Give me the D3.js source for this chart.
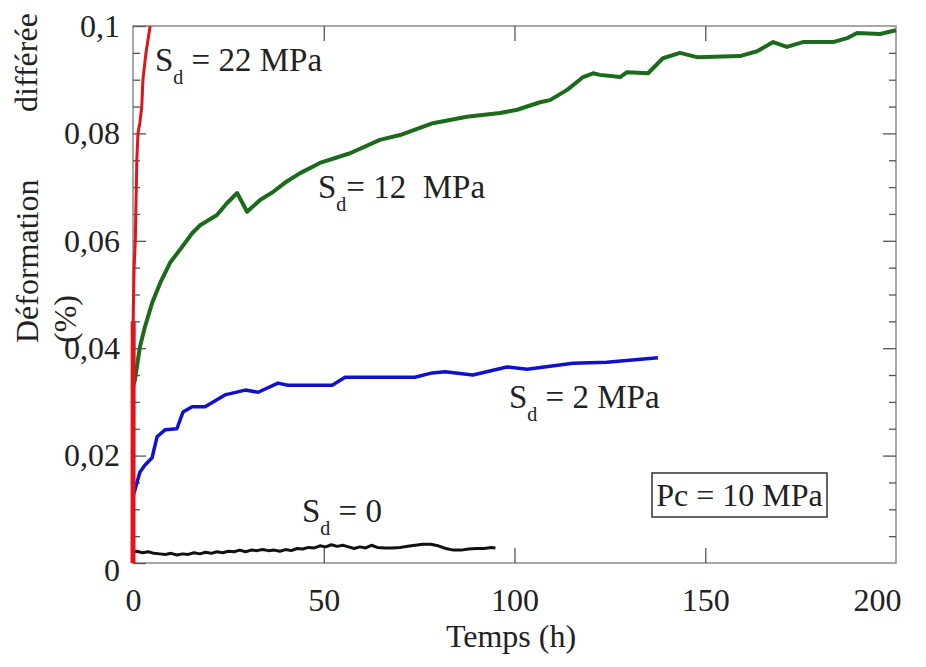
<!DOCTYPE html>
<html>
<head>
<meta charset="utf-8">
<script src="https://cdn.jsdelivr.net/npm/d3@7"></script>
<style>
  body { margin: 0; background: #fff; }
  text { font-family: "Liberation Serif", "Times New Roman", serif; fill: #222; }
</style>
</head>
<body>
<div id="chart"></div>
<script>
// data (time in h, deformation in %)
var redTime = [0, 0.02, 0.05, 0.15, 0.3, 0.6, 1.0, 1.3, 1.8, 2.3, 2.6, 3.4, 4.5];
var redDef = [0, 0.02, 0.045, 0.05, 0.055, 0.06, 0.075, 0.08, 0.082, 0.085, 0.09, 0.095, 0.1];

var greenTime = [0, 0.5, 1.8, 3.1, 5, 7.1, 9.7, 12.8, 15.5, 17.6, 22, 24.6, 27.3, 29.9, 33.3, 36.5,
  39.8, 43.8, 49, 56.9, 64.7, 70, 78.6, 87.5, 96.2, 100.7, 106.7, 109.3, 113.8, 118, 120.6, 122.4,
  127.7, 129.5, 135, 138.9, 143.4, 147.8, 159.1, 163.6, 167.8, 171.4, 175.6, 183.5, 187.4, 189.8, 195.8, 200];
var greenDef = [0.033, 0.0341, 0.0402, 0.0439, 0.0484, 0.0521, 0.0559, 0.0588, 0.0614, 0.0629, 0.0648, 0.067,
  0.0689, 0.0654, 0.0676, 0.069, 0.0708, 0.0726, 0.0745, 0.0763, 0.0788, 0.0797, 0.0819, 0.0831, 0.0838,
  0.0844, 0.0858, 0.0862, 0.0881, 0.0905, 0.0912, 0.0909, 0.0905, 0.0914, 0.0912, 0.094, 0.095, 0.0942,
  0.0944, 0.0953, 0.097, 0.0961, 0.097, 0.097, 0.0978, 0.0987, 0.0985, 0.0992];

var blueTime = [0, 0.5, 1.8, 3.1, 5, 6.3, 8.4, 11.5, 13.1, 15.5, 18.9, 24.1, 29.4, 32.8, 38, 40.6, 52.2,
  55.6, 73.9, 78.4, 81.8, 89.1, 98, 103.3, 115.3, 124.2, 137.6];
var blueDef = [0.0125, 0.0136, 0.0169, 0.0182, 0.0196, 0.0235, 0.0248, 0.025, 0.0281, 0.0291, 0.0291,
  0.0313, 0.0322, 0.0318, 0.0335, 0.0331, 0.0331, 0.0346, 0.0346, 0.0354, 0.0356, 0.035, 0.0365, 0.0361,
  0.0372, 0.0374, 0.0382];

var blackTime = [0, 1, 2.5, 4, 5.5, 7, 8.5, 10, 11.5, 13, 14.5, 16, 17.5, 19, 20.5, 22, 23.5, 25, 26.5, 28,
  29.5, 31, 32.5, 34, 35.5, 37, 38.5, 40, 41.5, 43, 44.5, 46, 47.5, 49, 50.5, 52, 53.5, 55, 56.5, 58, 59.5,
  61, 62.5, 64, 66, 68, 70, 72, 74, 76, 78, 80, 82, 84, 86, 88, 90, 92, 94, 95];
var blackDef = [0.0021, 0.0022, 0.0019, 0.0021, 0.0018, 0.0017, 0.0016, 0.0018, 0.0015, 0.0017, 0.0016,
  0.0019, 0.0017, 0.002, 0.0018, 0.0021, 0.0019, 0.0022, 0.0021, 0.0024, 0.0021, 0.0024, 0.0023, 0.0025,
  0.0023, 0.0024, 0.0022, 0.0025, 0.0023, 0.0027, 0.0026, 0.0029, 0.0028, 0.0032, 0.003, 0.0034, 0.0031,
  0.0033, 0.003, 0.0027, 0.003, 0.0028, 0.0033, 0.0029, 0.0028, 0.0028, 0.0029, 0.0031, 0.0033, 0.0035,
  0.0035, 0.0032, 0.0027, 0.0024, 0.0024, 0.0026, 0.0027, 0.0027, 0.0029, 0.0028];

var xTicks = [0, 50, 100, 150, 200];
var yTicks = [0, 0.02, 0.04, 0.06, 0.08, 0.1];
var yMinorTicks = [0.005, 0.01, 0.015, 0.025, 0.03, 0.035, 0.045, 0.05, 0.055, 0.065, 0.07, 0.075, 0.085, 0.09, 0.095];

// svg area
var svgWidth = 926;
var svgHeight = 667;

var chartMargin = { top: 26, right: 30, bottom: 104, left: 133 };
var chartWidth = svgWidth - chartMargin.left - chartMargin.right;
var chartHeight = svgHeight - chartMargin.top - chartMargin.bottom;

var svg = d3.select("#chart")
  .append("svg")
  .attr("width", svgWidth)
  .attr("height", svgHeight);

var chartGroup = svg.append("g")
  .attr("transform", `translate(${chartMargin.left}, ${chartMargin.top})`);

var xScale = d3.scaleLinear().domain([0, 200]).range([0, chartWidth]);
var yScale = d3.scaleLinear().domain([0, 0.1]).range([chartHeight, 0]);

function fmt(d) { return String(d).replace(".", ","); }

// frame
chartGroup.append("rect")
  .attr("width", chartWidth)
  .attr("height", chartHeight)
  .attr("fill", "none")
  .attr("stroke", "#8a8a8a")
  .attr("stroke-width", 1.5);

// ticks, all pointing inward
function styleAxis(g) {
  g.select(".domain").remove();
  g.selectAll(".tick line").attr("stroke", "#555").attr("stroke-width", 1.3);
  g.selectAll("text")
    .style("font-family", "'Liberation Serif', 'Times New Roman', serif")
    .style("font-size", "32px")
    .attr("fill", "#222");
}

chartGroup.append("g")
  .call(d3.axisLeft(yScale).tickValues(yTicks).tickSize(-13).tickPadding(13).tickFormat(fmt))
  .call(styleAxis)
  .call(g => g.selectAll(".tick").filter(d => d === 0).select("text").attr("y", 7));

chartGroup.append("g")
  .call(d3.axisLeft(yScale).tickValues(yMinorTicks).tickSize(-7).tickFormat(""))
  .call(styleAxis);

chartGroup.append("g")
  .attr("transform", `translate(${chartWidth}, 0)`)
  .call(d3.axisRight(yScale).tickValues(yTicks.slice(1, -1)).tickSize(-13).tickFormat(""))
  .call(styleAxis);

chartGroup.append("g")
  .attr("transform", `translate(${chartWidth}, 0)`)
  .call(d3.axisRight(yScale).tickValues(yMinorTicks).tickSize(-7).tickFormat(""))
  .call(styleAxis);

chartGroup.append("g")
  .attr("transform", `translate(0, ${chartHeight})`)
  .call(d3.axisBottom(xScale).tickValues(xTicks).tickSize(-15).tickPadding(25).tickFormat(fmt))
  .call(styleAxis)
  .call(g => g.selectAll(".tick").filter(d => d === 0 || d === 200).select("line").remove())
  .call(g => g.selectAll(".tick").filter(d => d === 200).select("text").attr("x", -19));

chartGroup.append("g")
  .call(d3.axisTop(xScale).tickValues(xTicks.slice(1, -1)).tickSize(-15).tickFormat(""))
  .call(styleAxis);

// curves
var line = d3.line()
  .x(d => xScale(d[0]))
  .y(d => yScale(d[1]))
  .curve(d3.curveLinear);

function pairs(ts, vs) { return ts.map((t, i) => [t, vs[i]]); }

var black = pairs(blackTime, blackDef);
var blue = pairs(blueTime, blueDef);
var green = pairs(greenTime, greenDef);
var red = pairs(redTime, redDef);

chartGroup.append("path").datum(black)
  .attr("d", line).attr("fill", "none")
  .attr("stroke", "#111").attr("stroke-width", 3).attr("stroke-linejoin", "round");

chartGroup.append("path").datum(blue)
  .attr("d", line).attr("fill", "none")
  .attr("stroke", "#1010d0").attr("stroke-width", 3.5).attr("stroke-linejoin", "round");

chartGroup.append("path").datum(green)
  .attr("d", line).attr("fill", "none")
  .attr("stroke", "#1b6b1b").attr("stroke-width", 4).attr("stroke-linejoin", "round");

// red: thick start, thinner upper part
chartGroup.append("path").datum(red.slice(0, 3))
  .attr("d", line).attr("fill", "none")
  .attr("stroke", "#e0141a").attr("stroke-width", 5);

chartGroup.append("path").datum(red.slice(2))
  .attr("d", line).attr("fill", "none")
  .attr("stroke", "#e0141a").attr("stroke-width", 3).attr("stroke-linejoin", "round");

// curve labels
function sdLabel(x, y, rest) {
  var t = svg.append("text")
    .attr("x", x)
    .attr("y", y)
    .style("font-size", "33px");
  t.append("tspan").text("S");
  t.append("tspan").attr("dy", 13).style("font-size", "20px").text("d");
  t.append("tspan").attr("dy", -13).text(rest);
}

sdLabel(155, 71, " = 22 MPa");
sdLabel(318, 198, "= 12\u00a0 MPa");
sdLabel(509, 408, " = 2 MPa");
sdLabel(302, 522, " = 0");

// Pc box
svg.append("rect")
  .attr("x", 652).attr("y", 473)
  .attr("width", 175).attr("height", 44)
  .attr("fill", "none").attr("stroke", "#333").attr("stroke-width", 1.5);

svg.append("text")
  .attr("x", 739.5).attr("y", 506)
  .attr("text-anchor", "middle")
  .style("font-size", "32px")
  .text("Pc = 10 MPa");

// axis titles
svg.append("text")
  .attr("x", 511).attr("y", 647)
  .attr("text-anchor", "middle")
  .style("font-size", "32px")
  .text("Temps (h)");

svg.append("text")
  .attr("transform", "translate(37, 112) rotate(-90)")
  .style("font-size", "32px")
  .text("différée");

svg.append("text")
  .attr("transform", "translate(38, 343) rotate(-90)")
  .style("font-size", "32px")
  .text("Déformation");

svg.append("text")
  .attr("transform", "translate(76, 343) rotate(-90)")
  .style("font-size", "32px")
  .text("(%)");
</script>
</body>
</html>
